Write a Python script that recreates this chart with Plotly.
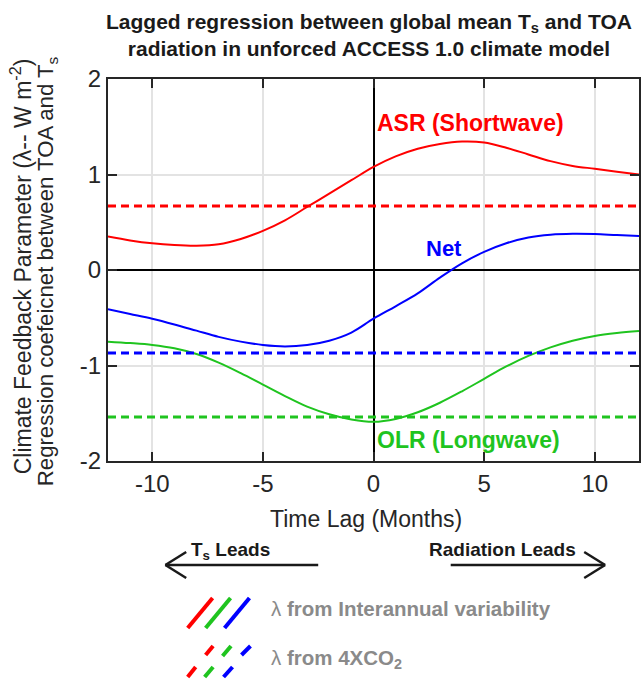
import plotly.graph_objects as go

# ---------------- data ----------------
lags = list(range(-12, 13))
asr = [0.35, 0.31, 0.28, 0.262, 0.255, 0.27, 0.325, 0.41, 0.52, 0.66, 0.80, 0.94, 1.08,
       1.19, 1.27, 1.32, 1.345, 1.335, 1.28, 1.21, 1.14, 1.09, 1.06, 1.03, 1.00]
net = [-0.41, -0.46, -0.51, -0.57, -0.635, -0.70, -0.75, -0.785, -0.80, -0.785, -0.74, -0.655, -0.51,
       -0.38, -0.245, -0.08, 0.07, 0.19, 0.28, 0.34, 0.37, 0.38, 0.377, 0.366, 0.356]
olr = [-0.75, -0.765, -0.785, -0.82, -0.88, -0.97, -1.08, -1.20, -1.32, -1.43, -1.51, -1.565, -1.59,
       -1.56, -1.49, -1.39, -1.27, -1.14, -1.01, -0.90, -0.81, -0.74, -0.69, -0.66, -0.64]
co2_lags = [-12, 12]
asr_4xco2 = 0.67
net_4xco2 = -0.87
olr_4xco2 = -1.54

x_tickvals = [-10, -5, 0, 5, 10]
x_ticktext = ["-10", "-5", "0", "5", "10"]
y_tickvals = [-2, -1, 0, 1, 2]
y_ticktext = ["-2", "-1", "0", "1", "2"]

RED = "#ff0000"
BLUE = "#0000ff"
GREEN = "#1fc41f"
FONT = "Liberation Sans, Arial, Helvetica, sans-serif"
DARK = "#262626"

# plot area in pixels
L, R, T, B = 108, 641, 79, 461
W, H = 641, 679


def px(x):
    return (x - L) / (R - L)


def py(y):
    return (B - y) / (B - T)


fig = go.Figure()

for vals, col in [(asr, RED), (net, BLUE), (olr, GREEN)]:
    fig.add_trace(go.Scatter(x=lags, y=vals, mode="lines",
                             line=dict(color=col, width=2, shape="spline", smoothing=1.0),
                             showlegend=False, hoverinfo="skip"))

for v, col in [(asr_4xco2, RED), (net_4xco2, BLUE), (olr_4xco2, GREEN)]:
    fig.add_trace(go.Scatter(x=co2_lags, y=[v, v], mode="lines",
                             line=dict(color=col, width=3, dash="8px,5px"),
                             showlegend=False, hoverinfo="skip"))

axis_common = dict(
    ticks="inside", ticklen=9, tickwidth=2, tickcolor=DARK,
    showline=True, linecolor=DARK, linewidth=2, mirror="ticks",
    showgrid=True, gridcolor="#e3e3e3", gridwidth=2,
    zeroline=True, zerolinecolor="#000000", zerolinewidth=2,
    tickfont=dict(family=FONT, size=24, color=DARK),
)

fig.update_layout(
    width=W, height=H,
    margin=dict(l=L, r=W - R, t=T, b=H - B),
    paper_bgcolor="white", plot_bgcolor="white",
    xaxis=dict(range=[-12, 12], tickvals=x_tickvals, ticktext=x_ticktext, **axis_common),
    yaxis=dict(range=[-2, 2], tickvals=y_tickvals, ticktext=y_ticktext, **axis_common),
    showlegend=False,
)

ann = []


def add_text(text, x, y, size, color, xanchor="left", yanchor="middle", angle=0, bold=False):
    ann.append(dict(text=text, x=px(x), y=py(y), xref="paper", yref="paper",
                    xanchor=xanchor, yanchor=yanchor, showarrow=False, textangle=angle,
                    font=dict(family=FONT, size=size, color=color,
                              weight="bold" if bold else "normal")))


add_text("Lagged regression between global mean T<sub>s</sub> and TOA<br>"
         "radiation in unforced ACCESS 1.0 climate model",
         370, 35, 21, "#1a1a1a", xanchor="center", bold=True)
add_text("ASR (Shortwave)", 376, 123, 23, RED, bold=True)
add_text("Net", 425, 248, 22, BLUE, bold=True)
add_text("OLR (Longwave)", 376, 440, 23, GREEN, bold=True)
add_text("Time Lag (Months)", 367, 519, 23, DARK, xanchor="center")
add_text("Climate Feedback Parameter (λ-- W m<sup>-2</sup>)", 21, 266, 23, DARK,
         xanchor="center", angle=-90)
add_text("Regression coefeicnet between TOA and T<sub>s</sub>", 47, 271, 22.2, DARK,
         xanchor="center", angle=-90)
add_text("T<sub>s</sub> Leads", 189, 551, 19, "#1a1a1a", bold=True)
add_text("Radiation Leads", 428, 549, 19, "#1a1a1a", bold=True)
add_text("λ <b>from Interannual variability</b>", 270, 608, 20.5, "#8a8a8a")
add_text("λ <b>from 4XCO<sub>2</sub></b>", 270, 659, 20.5, "#8a8a8a")

fig.update_layout(annotations=ann)

shapes = []


def seg(x0, y0, x1, y1, color, width):
    shapes.append(dict(type="line", xref="paper", yref="paper",
                       x0=px(x0), y0=py(y0), x1=px(x1), y1=py(y1),
                       line=dict(color=color, width=width)))


# direction arrows
AC = "#1a1a1a"
seg(165.6, 565, 319, 565, AC, 2.5)
seg(165.6, 565, 186.5, 552, AC, 2.5)
seg(165.6, 565, 186.5, 578, AC, 2.5)
seg(452, 565, 607, 565, AC, 2.5)
seg(607, 565, 586, 552, AC, 2.5)
seg(607, 565, 586, 578, AC, 2.5)

# legend strokes (solid)
seg(188, 628, 213, 598, RED, 4)
seg(206, 628, 231, 598, GREEN, 4)
seg(225, 628, 250, 598, BLUE, 4)
# legend strokes (dashed)
seg(188, 677, 196, 667, RED, 4)
seg(206, 655, 213.5, 646, RED, 4)
seg(205, 677, 213.5, 667, GREEN, 4)
seg(223, 656, 231.5, 646, GREEN, 4)
seg(224, 677, 233, 667, BLUE, 4)
seg(242, 655, 251, 646, BLUE, 4)

fig.update_layout(shapes=shapes)

fig.write_html("out.html")
